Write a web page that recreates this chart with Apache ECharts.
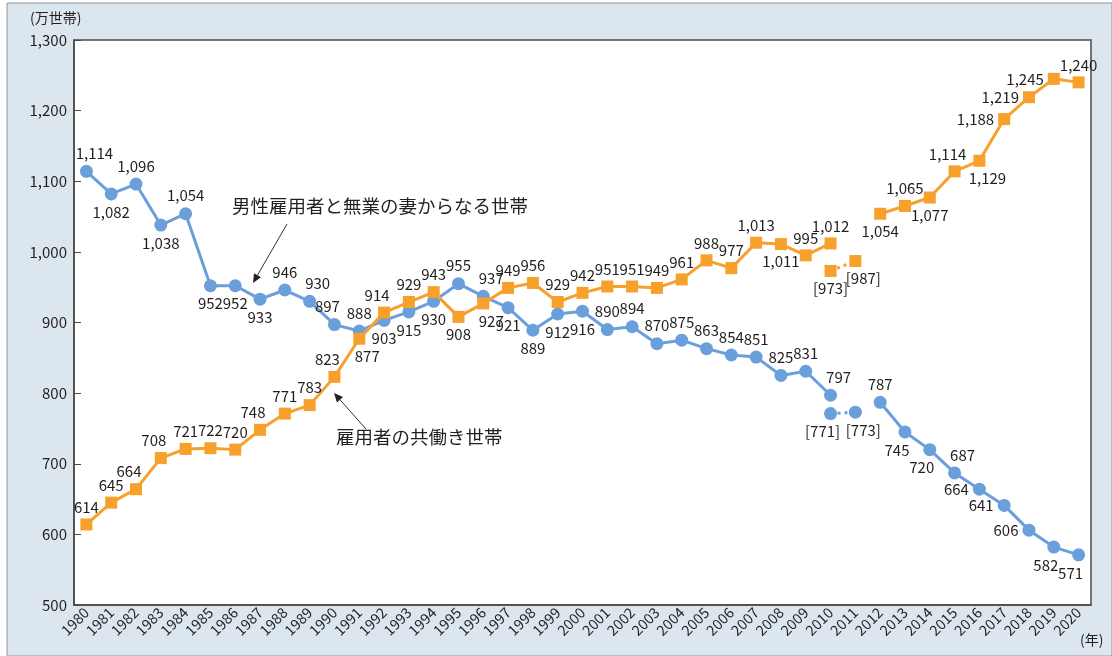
<!DOCTYPE html>
<html>
<head>
<meta charset="utf-8">
<script src="https://cdn.jsdelivr.net/npm/echarts@6/dist/echarts.min.js"></script>
<style>
html,body{margin:0;padding:0;background:#ffffff;}
#c{width:1112px;height:656px;}
</style>
</head>
<body>
<div id="c"></div>
<script>
const years = ['1980','1981','1982','1983','1984','1985','1986','1987','1988','1989','1990','1991','1992','1993','1994','1995','1996','1997','1998','1999','2000','2001','2002','2003','2004','2005','2006','2007','2008','2009','2010','2011','2012','2013','2014','2015','2016','2017','2018','2019','2020'];
const maleOnly = [1114,1082,1096,1038,1054,952,952,933,946,930,897,888,903,915,930,955,937,921,889,912,916,890,894,870,875,863,854,851,825,831,797,null,787,745,720,687,664,641,606,582,571];
const dualIncome = [614,645,664,708,721,722,720,748,771,783,823,877,914,929,943,908,927,949,956,929,942,951,951,949,961,988,977,1013,1011,995,1012,null,1054,1065,1077,1114,1129,1188,1219,1245,1240];
const maleOnlyRef = {'2010':771,'2011':773};
const dualIncomeRef = {'2010':973,'2011':987};
const yTicks = {min:500, max:1300, step:100};

const maleLabelPos = ['tr','b','t','b','t','b','b','b','t','tr','tl','t','b','b','b','t','tr','b','b','b','b','t','t','t','t','t','t','t','t','t','tr',null,'t','bl','bl','tr','l','l','l','bl','bl'];
const dualLabelPos = ['t','t','tl','tl','t','t','t','tl','t','t','tl','br','tl','t','t','b','br','t','t','t','t','t','t','t','t','t','t','t','b','t','t',null,'b','t','b','tl','br','l','l','l','t'];
const maleRefPos = {'2010':'bl','2011':'br'};
const dualRefPos = {'2010':'b','2011':'br'};

const BLUE = '#6a9fdc';
const ORANGE = '#f7a02b';
const TXT = '#231f20';
const FONT = '"Noto Sans CJK JP","Noto Sans",sans-serif';

function labelCfg(code){
  const m = {
    t:{position:'top',offset:[0,0]},
    b:{position:'bottom',offset:[0,0]},
    l:{position:'left',offset:[0,0]},
    r:{position:'right',offset:[0,0]},
    tl:{position:'top',offset:[-7,0]},
    tr:{position:'top',offset:[8,0]},
    bl:{position:'bottom',offset:[-8,0]},
    br:{position:'bottom',offset:[8,0]}
  }[code] || {position:'top',offset:[0,0]};
  return m;
}
function fmt(v){ return v.toLocaleString('en-US'); }

function buildData(vals, pos){
  return vals.map((v,i)=>{
    if(v===null) return null;
    const c = labelCfg(pos[i]);
    return {value:v, label:{position:c.position, offset:c.offset}};
  });
}
function buildRef(ref, pos){
  return years.map(y=>{
    if(ref[y]===undefined) return null;
    const c = labelCfg(pos[y]);
    return {value:ref[y], label:{position:c.position, offset:c.offset}};
  });
}

const labelBase = {show:true, color:TXT, fontSize:15, fontFamily:FONT, distance:4};

const chart = echarts.init(document.getElementById('c'), null, {renderer:'canvas'});

const option = {
  backgroundColor:'transparent',
  animation:false,
  grid:{left:74, right:21, top:40, bottom:51, show:true, backgroundColor:'#ffffff', borderColor:'#4a4a4a', borderWidth:1.5},
  xAxis:{
    type:'category', data:years, boundaryGap:true,
    axisLine:{lineStyle:{color:'#4a4a4a', width:1.5}},
    axisTick:{inside:true, length:6, lineStyle:{color:'#4a4a4a'}},
    axisLabel:{rotate:45, color:TXT, fontSize:14.5, fontFamily:FONT, margin:5, interval:0}
  },
  yAxis:{
    type:'value', min:yTicks.min, max:yTicks.max, interval:yTicks.step,
    splitLine:{show:false},
    axisLine:{show:true, lineStyle:{color:'#4a4a4a', width:1.5}},
    axisTick:{show:true, inside:true, length:7, lineStyle:{color:'#4a4a4a'}},
    axisLabel:{color:TXT, fontSize:15, fontFamily:FONT, margin:7, formatter:v=>fmt(v)}
  },
  series:[
    {
      name:'男性雇用者と無業の妻からなる世帯', type:'line', data:buildData(maleOnly, maleLabelPos),
      connectNulls:false, symbol:'circle', symbolSize:13,
      itemStyle:{color:BLUE}, lineStyle:{color:BLUE, width:3},
      label:Object.assign({}, labelBase, {formatter:p=>fmt(p.value)}), z:3
    },
    {
      name:'雇用者の共働き世帯', type:'line', data:buildData(dualIncome, dualLabelPos),
      connectNulls:false, symbol:'rect', symbolSize:12,
      itemStyle:{color:ORANGE}, lineStyle:{color:ORANGE, width:3},
      label:Object.assign({}, labelBase, {formatter:p=>fmt(p.value)}), z:4
    },
    {
      type:'line', data:buildRef(maleOnlyRef, maleRefPos), connectNulls:false,
      symbol:'circle', symbolSize:13, itemStyle:{color:BLUE},
      lineStyle:{color:BLUE, width:3, type:[3,4]},
      label:Object.assign({}, labelBase, {formatter:p=>'['+fmt(p.value)+']'}), z:3
    },
    {
      type:'line', data:buildRef(dualIncomeRef, dualRefPos), connectNulls:false,
      symbol:'rect', symbolSize:12, itemStyle:{color:ORANGE},
      lineStyle:{color:ORANGE, width:3, type:[3,4]},
      label:Object.assign({}, labelBase, {formatter:p=>'['+fmt(p.value)+']'}), z:4
    }
  ]
};
chart.setOption(option);

function arrow(x1,y1,x2,y2){
  const ang = Math.atan2(y2-y1, x2-x1);
  const L = 9, W = 4;
  const bx = x2 - L*Math.cos(ang), by = y2 - L*Math.sin(ang);
  const px = -Math.sin(ang)*W, py = Math.cos(ang)*W;
  return [
    {type:'line', shape:{x1:x1,y1:y1,x2:bx,y2:by}, style:{stroke:'#333', lineWidth:1}, z:10},
    {type:'polygon', shape:{points:[[x2,y2],[bx+px,by+py],[bx-px,by-py]]}, style:{fill:'#222'}, z:10}
  ];
}

chart.setOption({
  graphic:[
    {type:'rect', shape:{x:7,y:3,width:1105,height:653}, style:{fill:'#dce6ee', stroke:'#8f969c', lineWidth:1}, z:-100, silent:true},
    {type:'text', left:30, top:11, style:{text:'(万世帯)', fill:TXT, font:'14px '+FONT}, z:10},
    {type:'text', left:1080, top:633, style:{text:'(年)', fill:TXT, font:'14px '+FONT}, z:10},
    {type:'text', left:232, top:197, style:{text:'男性雇用者と無業の妻からなる世帯', fill:TXT, font:'18.5px '+FONT}, z:10},
    {type:'text', left:336, top:428, style:{text:'雇用者の共働き世帯', fill:TXT, font:'18.5px '+FONT}, z:10}
  ].concat(arrow(287,224,253,283)).concat(arrow(366,429,334,393))
});
</script>
</body>
</html>
